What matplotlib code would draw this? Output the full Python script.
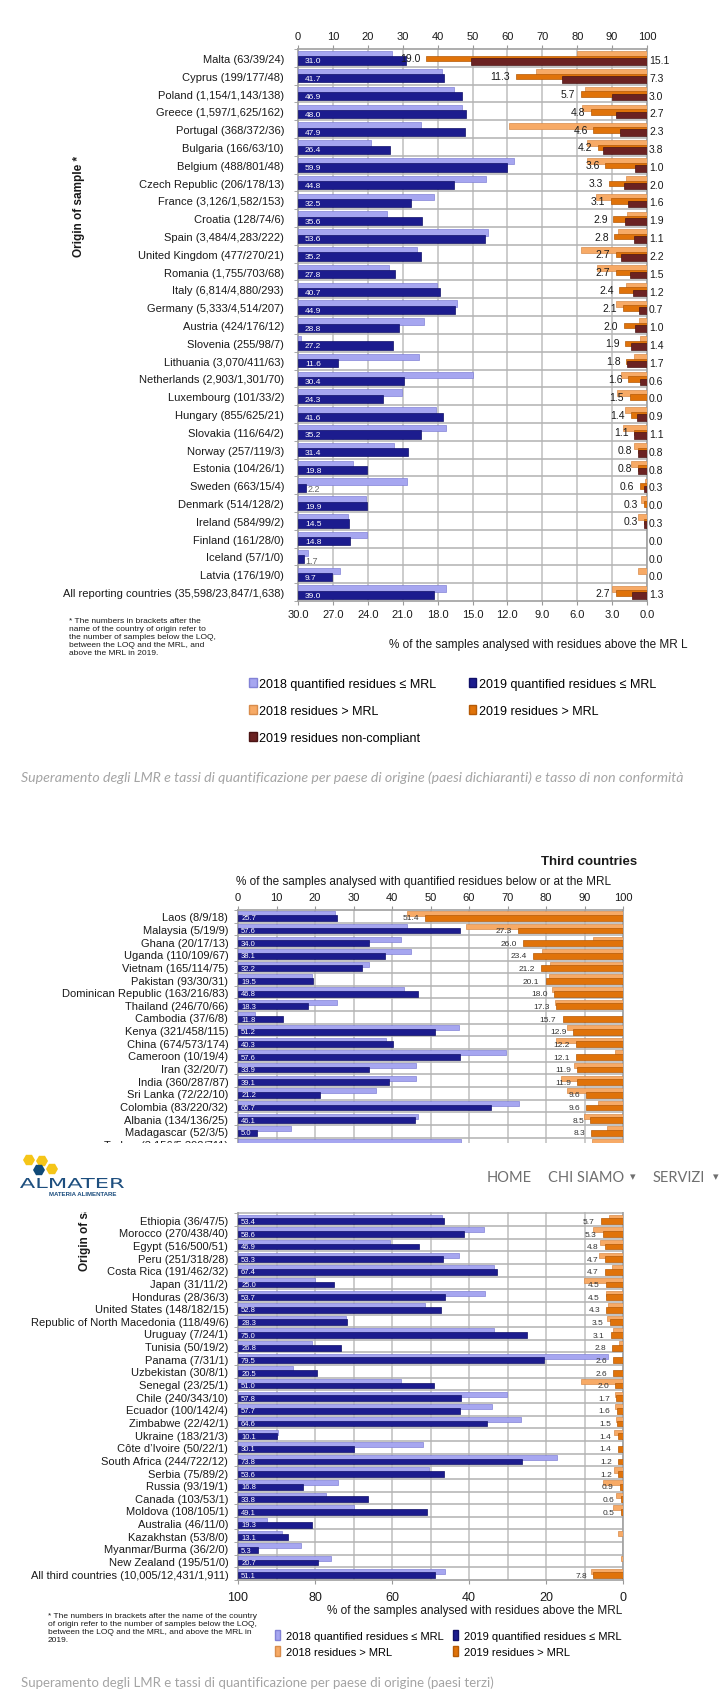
import matplotlib
matplotlib.use("Agg")
import matplotlib.pyplot as plt
import numpy as np
from matplotlib.patches import Patch, PathPatch, RegularPolygon
from matplotlib.textpath import TextPath
from matplotlib.transforms import Affine2D
from matplotlib.font_manager import FontProperties

plt.rcParams['font.family'] = ['Liberation Sans', 'DejaVu Sans']

# ---- reporting countries (first chart) ----
eu_labels = ["Malta (63/39/24)", "Cyprus (199/177/48)", "Poland (1,154/1,143/138)",
             "Greece (1,597/1,625/162)", "Portugal (368/372/36)", "Bulgaria (166/63/10)",
             "Belgium (488/801/48)", "Czech Republic (206/178/13)", "France (3,126/1,582/153)",
             "Croatia (128/74/6)", "Spain (3,484/4,283/222)", "United Kingdom (477/270/21)",
             "Romania (1,755/703/68)", "Italy (6,814/4,880/293)", "Germany (5,333/4,514/207)",
             "Austria (424/176/12)", "Slovenia (255/98/7)", "Lithuania (3,070/411/63)",
             "Netherlands (2,903/1,301/70)", "Luxembourg (101/33/2)", "Hungary (855/625/21)",
             "Slovakia (116/64/2)", "Norway (257/119/3)", "Estonia (104/26/1)",
             "Sweden (663/15/4)", "Denmark (514/128/2)", "Ireland (584/99/2)",
             "Finland (161/28/0)", "Iceland (57/1/0)", "Latvia (176/19/0)",
             "All reporting countries (35,598/23,847/1,638)"]
eu_quant_2018 = [27.0, 41.4, 44.7, 47.0, 35.2, 20.8, 61.8, 53.8, 39.0, 25.4, 54.3, 34.0, 26.0,
                 39.8, 45.5, 36.2, 0.9, 34.7, 50.1, 29.9, 39.4, 42.3, 27.4, 15.7, 31.2, 19.4,
                 14.4, 19.8, 2.8, 12.1, 42.3]
eu_quant_2019 = [31.0, 41.7, 46.9, 48.0, 47.9, 26.4, 59.9, 44.8, 32.5, 35.6, 53.6, 35.2, 27.8,
                 40.7, 44.9, 28.8, 27.2, 11.6, 30.4, 24.3, 41.6, 35.2, 31.4, 19.8, 2.2, 19.9,
                 14.5, 14.8, 1.7, 9.7, 39.0]
eu_mrl_2018 = [6.0, 9.5, 5.3, 5.6, 11.9, 5.2, 5.2, 1.8, 4.4, 1.7, 2.5, 5.7, 4.3, 1.8, 2.7, 0.7,
               0.6, 1.1, 2.2, 2.6, 1.9, 2.1, 1.1, 1.4, 0.2, 0.5, 0.8, 0.0, 0.0, 0.8, 3.0]
eu_mrl_2019 = [19.0, 11.3, 5.7, 4.8, 4.6, 4.2, 3.6, 3.3, 3.1, 2.9, 2.8, 2.7, 2.7, 2.4, 2.1, 2.0,
               1.9, 1.8, 1.6, 1.5, 1.4, 1.1, 0.8, 0.8, 0.6, 0.3, 0.3, 0.0, 0.0, 0.0, 2.7]
eu_noncompl_2019 = [15.1, 7.3, 3.0, 2.7, 2.3, 3.8, 1.0, 2.0, 1.6, 1.9, 1.1, 2.2, 1.5, 1.2, 0.7,
                    1.0, 1.4, 1.7, 0.6, 0.0, 0.9, 1.1, 0.8, 0.8, 0.3, 0.0, 0.3, 0.0, 0.0, 0.0, 1.3]

# ---- third countries (second chart); 5 rows are hidden under the site header ----
hidden = 5
tc_labels = (["Laos (8/9/18)", "Malaysia (5/19/9)", "Ghana (20/17/13)", "Uganda (110/109/67)",
              "Vietnam (165/114/75)", "Pakistan (93/30/31)", "Dominican Republic (163/216/83)",
              "Thailand (246/70/66)", "Cambodia (37/6/8)", "Kenya (321/458/115)",
              "China (674/573/174)", "Cameroon (10/19/4)", "Iran (32/20/7)", "India (360/287/87)",
              "Sri Lanka (72/22/10)", "Colombia (83/220/32)", "Albania (134/136/25)",
              "Madagascar (52/3/5)", "Turkey (3,156/5,392/711)"]
             + [""] * hidden
             + ["Ethiopia (36/47/5)", "Morocco (270/438/40)", "Egypt (516/500/51)",
                "Peru (251/318/28)", "Costa Rica (191/462/32)", "Japan (31/11/2)",
                "Honduras (28/36/3)", "United States (148/182/15)",
                "Republic of North Macedonia (118/49/6)", "Uruguay (7/24/1)", "Tunisia (50/19/2)",
                "Panama (7/31/1)", "Uzbekistan (30/8/1)", "Senegal (23/25/1)", "Chile (240/343/10)",
                "Ecuador (100/142/4)", "Zimbabwe (22/42/1)", "Ukraine (183/21/3)",
                "Côte d’Ivoire (50/22/1)", "South Africa (244/722/12)", "Serbia (75/89/2)",
                "Russia (93/19/1)", "Canada (103/53/1)", "Moldova (108/105/1)",
                "Australia (46/11/0)", "Kazakhstan (53/8/0)", "Myanmar/Burma (36/2/0)",
                "New Zealand (195/51/0)", "All third countries (10,005/12,431/1,911)"])
tc_quant_2018 = ([25.1, 43.8, 42.3, 44.9, 34.1, 19.3, 43.2, 25.7, 4.3, 57.5, 38.4, 69.5, 46.2,
                  46.2, 35.9, 73.1, 46.7, 13.8, 57.8] + [np.nan] * hidden +
                 [53.1, 63.8, 39.6, 57.5, 66.5, 20.1, 64.2, 48.6, 28.1, 66.6, 19.3, 96.2, 14.4,
                  42.3, 69.8, 65.9, 73.4, 10.3, 48.0, 82.8, 49.5, 25.9, 22.8, 30.1, 7.5, 11.4,
                  16.3, 24.1, 53.7])
tc_quant_2019 = ([25.7, 57.6, 34.0, 38.1, 32.2, 19.5, 46.8, 18.3, 11.8, 51.2, 40.3, 57.6, 33.9,
                  39.1, 21.2, 65.7, 46.1, 5.0, np.nan] + [np.nan] * hidden +
                 [53.4, 58.6, 46.9, 53.3, 67.4, 25.0, 53.7, 52.8, 28.3, 75.0, 26.8, 79.5, 20.5,
                  51.0, 57.8, 57.7, 64.6, 10.1, 30.1, 73.8, 53.6, 16.8, 33.8, 49.1, 19.3, 13.1,
                  5.3, 20.7, 51.1])
tc_mrl_2018 = ([56.2, 40.7, 7.7, 21.0, 19.0, 19.2, 18.4, 17.6, 0.0, 14.6, 17.4, 2.0, 12.8, 16.2,
                14.6, 6.6, 10.1, 4.1, 8.0] + [np.nan] * hidden +
               [3.6, 7.8, 5.9, 6.2, 2.9, 10.1, 4.4, 3.8, 4.1, 2.6, 1.1, 0.0, 0.0, 11.0, 2.0, 2.0,
                1.7, 2.3, 0.0, 0.0, 2.4, 5.3, 1.7, 2.6, 0.0, 1.4, 0.0, 0.5, 8.4])
tc_mrl_2019 = ([51.4, 27.3, 26.0, 23.4, 21.2, 20.1, 18.0, 17.3, 15.7, 12.9, 12.2, 12.1, 11.9,
                11.9, 9.6, 9.6, 8.5, 8.3, np.nan] + [np.nan] * hidden +
               [5.7, 5.3, 4.8, 4.7, 4.7, 4.5, 4.5, 4.3, 3.5, 3.1, 2.8, 2.6, 2.6, 2.0, 1.7, 1.6,
                1.5, 1.4, 1.4, 1.2, 1.2, 0.9, 0.6, 0.5, 0.0, 0.0, 0.0, 0.0, 7.8])

legend_names = ["2018 quantified residues ≤ MRL", "2019 quantified residues ≤ MRL",
                "2018 residues > MRL", "2019 residues > MRL", "2019 residues non-compliant"]

# colours
LB, LB_E = '#a6a6f0', '#8282d6'
DB, DB_E = '#1c1c8e', '#101068'
LO, LO_E = '#f7aa66', '#d88c4c'
OR, OR_E = '#e0730a', '#b55a06'
NC, NC_E = '#6b2222', '#4a1414'
GRID = '#c8c8c8'
SEP = '#b2b2b2'
TXT = '#1a1a1a'
CAPTION = '#a4a4a4'

W, H = 721, 1699
fig = plt.figure(figsize=(W / 100, H / 100), dpi=100)
fig.patch.set_facecolor('white')


def px_axes(left, top, right, bottom, **kw):
    return fig.add_axes([left / W, 1 - bottom / H, (right - left) / W, (bottom - top) / H], **kw)


def fy(y):
    return 1 - y / H


def style_axes(ax, n):
    for sp in ax.spines.values():
        sp.set_color('#a0a0a0')
        sp.set_linewidth(1.2)
    ax.set_ylim(n - 0.5, -0.5)
    ax.grid(axis='x', color=GRID, lw=1.3)
    ax.set_axisbelow(True)
    for b in np.arange(n - 1) + 0.5:
        ax.axhline(b, color=SEP, lw=1.1, zorder=1)
    ax.set_yticks(np.arange(-0.5, n), minor=True)
    ax.tick_params(axis='y', which='minor', length=3, color='#999999')


# =================== chart 1 ===================
n1 = len(eu_labels)
y1 = np.arange(n1)
ax1 = px_axes(298, 50, 647, 602)
ax1.barh(y1 - 0.2, eu_quant_2018, height=0.36, color=LB, edgecolor=LB_E, lw=0.5, zorder=3)
ax1.barh(y1 + 0.15, eu_quant_2019, height=0.46, color=DB, edgecolor=DB_E, lw=0.5, zorder=4)
for yy, v in zip(y1, eu_quant_2019):
    if v >= 5:
        ax1.text(2.0, yy + 0.17, f'{v:.1f}', color='white', fontsize=6, va='center', zorder=5)
    else:
        ax1.text(v + 0.5, yy + 0.2, f'{v:.1f}', color='#666666', fontsize=6.5, va='center', zorder=5)
ax1.set_xlim(0, 100)
style_axes(ax1, n1)
ax1.set_yticks(y1)
ax1.set_yticklabels(eu_labels, fontsize=8, color=TXT)
ax1.tick_params(axis='y', which='major', length=0, pad=10)

ax1r = ax1.twiny()
ax1r.set_xlim(30, 0)
for vals, off, hgt, fc, ec in [(eu_mrl_2018, -0.2, 0.34, LO, LO_E),
                               (eu_mrl_2019, 0.04, 0.31, OR, OR_E),
                               (eu_noncompl_2019, 0.2, 0.37, NC, NC_E)]:
    v = np.array(vals)
    m = v > 0
    ax1r.barh(y1[m] + off, v[m], height=hgt, color=fc, edgecolor=ec, lw=0.5, zorder=3)
for yy, v in zip(y1, eu_mrl_2019):
    if v > 0:
        ax1r.annotate(f'{v:.1f}', xy=(v, yy + 0.03), xytext=(-4, 0), textcoords='offset points',
                      ha='right', va='center', fontsize=7.5, color=TXT)
for yy, v in zip(y1, eu_noncompl_2019):
    ax1r.annotate(f'{v:.1f}', xy=(0, yy + 0.12), xytext=(1.5, 0), textcoords='offset points',
                  ha='left', va='center', fontsize=7.5, color=TXT, annotation_clip=False)
for sp in ax1r.spines.values():
    sp.set_visible(False)

ax1.xaxis.tick_top()
ax1.set_xticks(np.arange(0, 101, 10))
ax1.tick_params(axis='x', length=3, color='#999999', labelsize=8, pad=3, labelcolor=TXT)
ax1r.xaxis.tick_bottom()
t1 = np.arange(0, 30.1, 3)
ax1r.set_xticks(t1)
ax1r.set_xticklabels([f'{t:.1f}' for t in t1])
ax1r.tick_params(axis='x', length=3, color='#999999', labelsize=8, pad=3, labelcolor=TXT)

fig.text(79 / W, fy(206), "Origin of sample *", rotation=90, ha='center', va='center',
         fontsize=8.5, fontweight='bold', color=TXT)
fig.text(389 / W, fy(645), "% of the samples analysed with residues above the MR L",
         fontsize=8.5, va='center', color=TXT)
fig.text(69 / W, fy(618), "* The numbers in brackets after the\nname of the country of origin refer to\n"
         "the number of samples below the LOQ,\nbetween the LOQ and the MRL, and\nabove the MRL in 2019.",
         fontsize=6, va='top', color=TXT, linespacing=1.2)

h_lb = Patch(facecolor=LB, edgecolor=LB_E)
h_db = Patch(facecolor=DB, edgecolor=DB_E)
h_lo = Patch(facecolor=LO, edgecolor=LO_E)
h_or = Patch(facecolor=OR, edgecolor=OR_E)
h_nc = Patch(facecolor=NC, edgecolor=NC_E)
fig.legend([h_lb, h_lo, h_nc, h_db, h_or],
           [legend_names[0], legend_names[2], legend_names[4], legend_names[1], legend_names[3]],
           ncol=2, loc='upper left', bbox_to_anchor=(249 / W, fy(679)), frameon=False,
           fontsize=9, handlelength=0.6, handleheight=0.7, handletextpad=0.2,
           columnspacing=2.6, labelspacing=1.2, borderpad=0, borderaxespad=0)

fig.text(21 / W, fy(778),
         "Superamento degli LMR e tassi di quantificazione per paese di origine (paesi dichiaranti) "
         "e tasso di non conformità",
         fontsize=10.2, color=CAPTION, style='italic', family=['Lato', 'DejaVu Sans'], va='center')

# =================== chart 2 ===================
n2 = len(tc_labels)
y2 = np.arange(n2)
ax2 = px_axes(238, 911, 623, 1581)
ax2.barh(y2 - 0.2, tc_quant_2018, height=0.4, color=LB, edgecolor=LB_E, lw=0.5, zorder=3)
ax2.barh(y2 + 0.12, tc_quant_2019, height=0.46, color=DB, edgecolor=DB_E, lw=0.5, zorder=4)
for yy, v in zip(y2, tc_quant_2019):
    if not np.isnan(v):
        ax2.text(0.8, yy + 0.13, f'{v:.1f}', color='white', fontsize=5.5, va='center', zorder=5)
ax2.set_xlim(0, 100)
style_axes(ax2, n2)
ax2.set_yticks(y2)
ax2.set_yticklabels(tc_labels, fontsize=8, color=TXT)
ax2.tick_params(axis='y', which='major', length=0, pad=7)

ax2r = ax2.twiny()
ax2r.set_xlim(100, 0)
for vals, off, hgt, fc, ec in [(tc_mrl_2018, -0.2, 0.4, LO, LO_E),
                               (tc_mrl_2019, 0.12, 0.46, OR, OR_E)]:
    v = np.array(vals)
    m = np.nan_to_num(v) > 0
    ax2r.barh(y2[m] + off, v[m], height=hgt, color=fc, edgecolor=ec, lw=0.5, zorder=3)
for yy, v in zip(y2, tc_mrl_2019):
    if np.nan_to_num(v) > 0:
        ax2r.annotate(f'{v:.1f}', xy=(v, yy + 0.13), xytext=(-4.5, 0), textcoords='offset points',
                      ha='right', va='center', fontsize=6, color='#333333')
for sp in ax2r.spines.values():
    sp.set_visible(False)

ax2.xaxis.tick_top()
ax2.set_xticks(np.arange(0, 101, 10))
ax2.tick_params(axis='x', length=3, color='#999999', labelsize=8, pad=3, labelcolor=TXT)
ax2r.xaxis.tick_bottom()
ax2r.set_xticks(np.arange(0, 101, 20))
ax2r.tick_params(axis='x', length=3, color='#999999', labelsize=9, pad=5, labelcolor=TXT)

fig.text(637 / W, fy(862), "Third countries", ha='right', va='center', fontsize=9.5,
         fontweight='bold', color=TXT)
fig.text(236 / W, fy(882), "% of the samples analysed with quantified residues below or at the MRL",
         fontsize=8.5, va='center', color=TXT)
fig.text(622 / W, fy(1611), "% of the samples analysed with residues above the MRL",
         fontsize=8.5, va='center', ha='right', color=TXT)
fig.text(85 / W, fy(1271), "Origin of sample *", rotation=90, ha='center', va='bottom',
         fontsize=8.5, fontweight='bold', color=TXT)
fig.text(48 / W, fy(1613), "* The numbers in brackets after the name of the country\n"
         "of origin refer to the number of samples below the LOQ,\n"
         "between the LOQ and the MRL, and above the MRL in\n2019.",
         fontsize=6, va='top', color=TXT, linespacing=1.2)
fig.legend([h_lb, h_lo, h_db, h_or],
           [legend_names[0], legend_names[2], legend_names[1], legend_names[3]],
           ncol=2, loc='upper left', bbox_to_anchor=(275 / W, fy(1631)), frameon=False,
           fontsize=8, handlelength=0.45, handleheight=1.0, handletextpad=0.5,
           columnspacing=0.9, labelspacing=0.45, borderpad=0, borderaxespad=0)
fig.text(21 / W, fy(1683),
         "Superamento degli LMR e tassi di quantificazione per paese di origine (paesi terzi)",
         fontsize=9.5, color=CAPTION, family=['Lato', 'DejaVu Sans'], va='center')

# =================== site header overlay ===================
top, bot = 1144, 1213
hdr = fig.add_axes([0, fy(bot), 1, (bot - top) / H], zorder=10)
hdr.set_xlim(0, W)
hdr.set_ylim(H - bot, H - top)
hdr.set_facecolor('white')
hdr.set_xticks([])
hdr.set_yticks([])
for sp in hdr.spines.values():
    sp.set_visible(False)

for (hx, hy), col in [((29, 1161), '#f5c518'), ((42, 1162), '#f5c518'),
                      ((39, 1171), '#0f4a78'), ((52, 1170), '#f5c518')]:
    hdr.add_patch(RegularPolygon((hx, H - hy), numVertices=6, radius=6.0,
                                 orientation=np.pi / 6, color=col, lw=0))

tp = TextPath((0, 0), "ALMATER", size=10, prop=FontProperties(family='DejaVu Sans'))
ext = tp.get_extents()
tr = Affine2D().translate(-ext.x0, -ext.y0).scale(104 / ext.width, 10 / ext.height)
tr = tr.translate(20, H - 1189)
hdr.add_patch(PathPatch(tr.transform_path(tp), color='#1d4e7e', lw=0))
hdr.text(49, H - 1195, "MATERIA ALIMENTARE", fontsize=4.4, color='#1d4e7e', va='center',
         fontweight='bold')

for nx, label in [(487, "HOME"), (548, "CHI SIAMO"), (653, "SERVIZI")]:
    hdr.text(nx, H - 1178, label, fontsize=10.5, color='#6f6f6f', va='center', family='Lato')
for nx in [630, 713]:
    hdr.text(nx, H - 1177, "▾", fontsize=8, color='#6f6f6f', va='center', ha='left',
             family='DejaVu Sans')

fig.savefig('out.png', dpi=100, facecolor='white')
